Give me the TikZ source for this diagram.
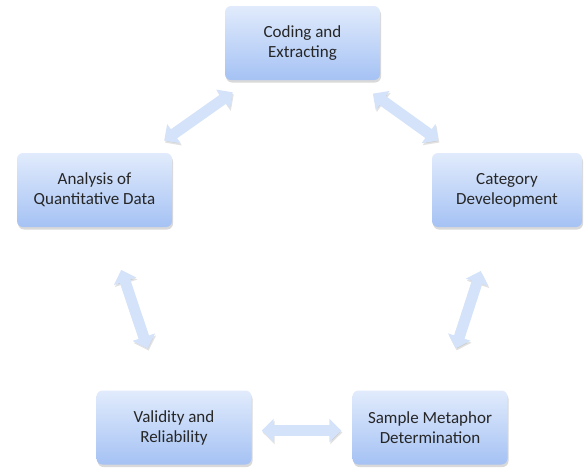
\documentclass[tikz,border=0pt]{standalone}
\usepackage{fontspec}
\setmainfont{Carlito}
\usetikzlibrary{arrows.meta}
\usetikzlibrary{shadows}
\definecolor{boxtop}{HTML}{E1EBFC}
\definecolor{boxbot}{HTML}{A5C2F4}
\definecolor{arrfill}{HTML}{D4E3F9}

\begin{document}
\begin{tikzpicture}[x=1pt,y=-1pt,
  stage/.style={rectangle, rounded corners=6pt, minimum width=155pt,
    minimum height=74pt, align=center, top color=boxtop, bottom color=boxbot,
    drop shadow={shadow xshift=1pt, shadow yshift=-2.5pt, opacity=0.3},
    font=\fontsize{17}{20}\selectfont, text=black!85},
  link/.style={line width=11pt, draw=arrfill,
    {Triangle[length=12pt,width=23pt]}-{Triangle[length=12pt,width=23pt]},
    preaction={draw=black!45, opacity=0.25,
      transform canvas={shift={(1pt,-2pt)}}}}]

%---------------------------------------
% Page frame
%---------------------------------------
\useasboundingbox (0,0) rectangle (584,467);

%====================================================
% Stages of the cycle
%====================================================
\node[stage] (code) at (302.5,43) {Coding and\\Extracting};
\node[stage] (anal) at (94.5,190) {Analysis of\\Quantitative Data};
\node[stage, minimum width=150pt] (catg) at (507,190) {Category\\Develeopment};
\node[stage] (valid) at (174,427.5) {Validity and\\Reliability};
\node[stage] (smpl) at (430,427.5) {Sample Metaphor\\Determination};

%====================================================
% Two-way arrows
%====================================================
\draw[link, shorten <=21pt, shorten >=21pt] (code) -- (anal);
\draw[link, shorten <=23pt, shorten >=21pt] (code) -- (catg);
\draw[link, shorten <=45pt, shorten >=44pt] (anal) -- (valid);
\draw[link, shorten <=46pt, shorten >=44pt] (catg) -- (smpl);

% bottom link sits a little below the centres
\draw[link, shorten <=10pt, shorten >=11pt]
  ([yshift=-3pt]valid.east) -- ([yshift=-3pt]smpl.west);

\end{tikzpicture}
\end{document}
